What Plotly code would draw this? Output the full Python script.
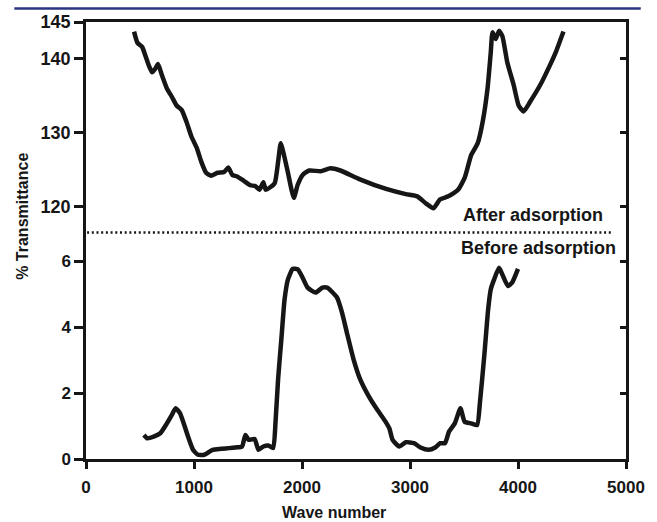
import plotly.graph_objects as go

# After adsorption (upper panel)
after_x = [445, 476, 521, 551, 582, 612, 642, 667, 703, 749, 794, 839, 885, 930, 976, 1027, 1067, 1112,
           1158, 1218, 1279, 1318, 1355, 1400, 1461, 1521, 1567, 1606, 1642, 1664, 1703, 1748, 1779, 1803,
           1833, 1870, 1924, 1961, 2006, 2067, 2173, 2264, 2355, 2536, 2779, 2961, 3067, 3142, 3218, 3279,
           3355, 3445, 3506, 3567, 3627, 3673, 3718, 3748, 3764, 3794, 3824, 3855, 3900, 3961, 4006, 4052,
           4112, 4203, 4294, 4355, 4421]
after_y = [143.7, 142.2, 141.6, 140.4, 139.1, 138.2, 138.7, 139.3, 137.8, 136.0, 134.9, 133.7, 133.1, 131.5,
           129.5, 127.9, 126.1, 124.6, 124.2, 124.6, 124.7, 125.3, 124.3, 124.1, 123.5, 122.9, 122.8, 122.3,
           123.3, 122.3, 122.6, 123.2, 126.1, 128.6, 127.0, 124.6, 121.2, 123.0, 124.3, 124.9, 124.8, 125.2,
           124.9, 123.7, 122.4, 121.7, 121.4, 120.5, 119.8, 121.0, 121.4, 122.3, 123.9, 127.0, 128.6, 131.5,
           136.0, 140.9, 143.6, 142.7, 143.8, 143.1, 139.6, 136.4, 133.7, 132.9, 134.2, 136.4, 139.1, 141.1,
           143.7]

# Before adsorption (lower panel)
before_x = [536, 567, 627, 688, 749, 794, 830, 870, 915, 945, 991, 1036, 1097, 1173, 1248, 1324, 1385, 1445,
            1476, 1506, 1561, 1597, 1642, 1688, 1733, 1755, 1779, 1809, 1839, 1870, 1915, 1961, 2006, 2052,
            2127, 2188, 2233, 2324, 2370, 2415, 2476, 2536, 2612, 2688, 2764, 2809, 2839, 2900, 2961, 3036,
            3097, 3173, 3233, 3279, 3324, 3361, 3415, 3467, 3506, 3567, 3621, 3648, 3688, 3724, 3748, 3779,
            3824, 3855, 3906, 3945, 4000]
before_y = [0.73, 0.63, 0.68, 0.78, 1.08, 1.33, 1.54, 1.39, 0.98, 0.68, 0.28, 0.13, 0.13, 0.28, 0.31, 0.33,
            0.35, 0.38, 0.73, 0.58, 0.61, 0.28, 0.38, 0.41, 0.33, 1.13, 2.44, 3.64, 4.85, 5.45, 5.77, 5.75,
            5.50, 5.20, 5.05, 5.20, 5.20, 4.90, 4.45, 3.84, 3.04, 2.44, 1.94, 1.54, 1.18, 0.93, 0.58, 0.38,
            0.51, 0.48, 0.35, 0.28, 0.35, 0.48, 0.48, 0.83, 1.08, 1.54, 1.13, 1.08, 1.03, 1.73, 3.14, 4.55,
            5.15, 5.45, 5.80, 5.60, 5.25, 5.35, 5.77]

x_ticks = [0, 1000, 2000, 3000, 4000, 5000]
top_ticks = [120, 130, 140, 145]
bottom_ticks = [0, 2, 4, 6]

FONT = "Arial, Liberation Sans, sans-serif"
INK = "#161616"
split = 228 / 440

fig = go.Figure()
fig.add_trace(go.Scatter(x=before_x, y=before_y, mode="lines", xaxis="x", yaxis="y",
                         line=dict(color=INK, width=4.5, shape="spline", smoothing=0.5),
                         showlegend=False, hoverinfo="skip"))
fig.add_trace(go.Scatter(x=after_x, y=after_y, mode="lines", xaxis="x2", yaxis="y2",
                         line=dict(color=INK, width=4.5, shape="spline", smoothing=0.5),
                         showlegend=False, hoverinfo="skip"))
# empty helpers for the right-hand tick axes
fig.add_trace(go.Scatter(x=[None], y=[None], xaxis="x", yaxis="y3", showlegend=False, hoverinfo="skip"))
fig.add_trace(go.Scatter(x=[None], y=[None], xaxis="x2", yaxis="y4", showlegend=False, hoverinfo="skip"))

axcommon = dict(showgrid=False, zeroline=False, linecolor=INK, linewidth=2.5, tickcolor=INK, tickwidth=2.5)

fig.update_layout(
    width=657, height=522,
    margin=dict(l=86, r=21, t=19, b=63),
    paper_bgcolor="white", plot_bgcolor="white",
    font=dict(family=FONT, color=INK, weight="bold"),
    xaxis=dict(range=[0, 5000], tickvals=x_ticks, ticks="outside", ticklen=7, showline=True,
               anchor="y", domain=[0, 1], ticklabelstandoff=4,
               tickfont=dict(size=17, family=FONT, weight="bold", color=INK),
               **axcommon),
    xaxis2=dict(range=[0, 5000], anchor="y2", side="top", showline=True, ticks="",
                showticklabels=False, domain=[0, 1], **axcommon),
    yaxis=dict(range=[0, 6.87], domain=[0, split], tickvals=bottom_ticks, ticks="outside", ticklen=9,
               showline=True, anchor="x",
               tickfont=dict(size=17, family=FONT, weight="bold", color=INK), **axcommon),
    yaxis2=dict(range=[116.5, 145], domain=[split, 1], tickvals=top_ticks, ticks="outside", ticklen=9,
                showline=True, anchor="x2",
                tickfont=dict(size=18, family=FONT, weight="bold", color=INK), **axcommon),
    yaxis3=dict(range=[0, 6.87], overlaying="y", side="right", anchor="x", tickvals=bottom_ticks,
                ticks="inside", ticklen=6, showline=True, showticklabels=False, **axcommon),
    yaxis4=dict(range=[116.5, 145], overlaying="y2", side="right", anchor="x2", tickvals=top_ticks,
                ticks="inside", ticklen=6, showline=True, showticklabels=False, **axcommon),
)

# separator and header rule
fig.add_shape(type="line", xref="paper", yref="paper", x0=0.002, x1=0.976, y0=split, y1=split,
              line=dict(color=INK, width=2.5, dash="2px,2.7px"))
fig.add_shape(type="line", xref="paper", yref="paper", x0=-0.1327, x1=1.0273, y0=1.0307, y1=1.0307,
              line=dict(color="#2b3580", width=2.5))

fig.add_annotation(text="After adsorption", xref="paper", yref="paper", x=0.962, y=0.559,
                   xanchor="right", yanchor="middle", showarrow=False,
                   font=dict(size=18, family=FONT, weight="bold", color=INK))
fig.add_annotation(text="Before adsorption", xref="paper", yref="paper", x=0.986, y=0.482,
                   xanchor="right", yanchor="middle", showarrow=False,
                   font=dict(size=18, family=FONT, weight="bold", color=INK))
fig.add_annotation(text="% Transmittance", xref="paper", yref="paper", x=-0.1164, y=0.5545,
                   xanchor="center", yanchor="middle", textangle=-90, showarrow=False,
                   font=dict(size=16, family=FONT, weight="bold", color=INK))
fig.add_annotation(text="Wave number", xref="paper", yref="paper", x=0.46, y=-0.1227,
                   xanchor="center", yanchor="middle", showarrow=False,
                   font=dict(size=16, family=FONT, weight="bold", color=INK))

fig.write_html("out.html")
